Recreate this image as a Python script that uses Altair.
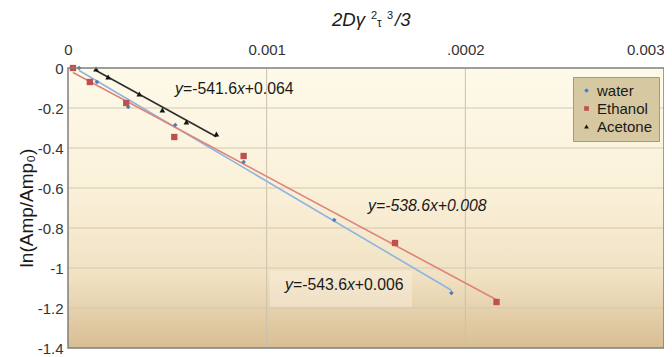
import altair as alt
import pandas as pd

# ---------------- data ----------------
series_names = ["water", "Ethanol", "Acetone"]

water_x = [0.000056, 0.000146, 0.000303, 0.000540, 0.000884, 0.001340, 0.001930]
water_y = [0.000, -0.070, -0.195, -0.285, -0.470, -0.760, -1.125]

ethanol_x = [0.000025, 0.000110, 0.000293, 0.000535, 0.000884, 0.001646, 0.002157]
ethanol_y = [0.000, -0.070, -0.175, -0.345, -0.440, -0.875, -1.170]

acetone_x = [0.000141, 0.000202, 0.000359, 0.000475, 0.000596, 0.000747]
acetone_y = [-0.005, -0.045, -0.130, -0.210, -0.270, -0.330]

x_ticks = [0, 0.001, 0.002, 0.003]
x_tick_labels = ["0", "0.001", ".0002", "0.003"]
y_ticks = [0, -0.2, -0.4, -0.6, -0.8, -1.0, -1.2, -1.4]
y_tick_labels = ["0", "-0.2", "-0.4", "-0.6", "-0.8", "-1", "-1.2", "-1.4"]

eq_acetone = "y=-541.6x+0.064"
eq_ethanol = "y=-538.6x+0.008"
eq_water = "y=-543.6x+0.006"

x_title_main = "2Dγ"
x_title_sup1 = "2"
x_title_sub = "τ"
x_title_sup2 = "3"
x_title_tail = "/3"
y_title = "ln(Amp/Amp₀)"

# ---------------- styling ----------------
point_colors = ["#4a7ebb", "#c0504d", "#141414"]
line_colors = ["#8fb4e0", "#e08379", "#2e2e2e"]
point_shapes = ["diamond", "square", "triangle-up"]
point_sizes = [22, 40, 32]
FONT = "Liberation Sans"
W, H = 596, 280

rows = []
for name, xs, ys in [("water", water_x, water_y),
                     ("Ethanol", ethanol_x, ethanol_y),
                     ("Acetone", acetone_x, acetone_y)]:
    for a, b in zip(xs, ys):
        rows.append({"series": name, "x": a, "y": b})
df = pd.DataFrame(rows)


def label_expr(vals, labels):
    parts = [f"abs(datum.value - ({v})) < 1e-9 ? '{l}'" for v, l in zip(vals, labels)]
    return " : ".join(parts) + " : ''"


xscale = alt.Scale(domain=[0, 0.003], nice=False, zero=False)
yscale = alt.Scale(domain=[-1.4, 0], nice=False, zero=False)
xaxis = alt.Axis(orient="top", values=x_ticks, labelExpr=label_expr(x_ticks, x_tick_labels),
                 grid=False, ticks=False, domain=False, labelPadding=11,
                 labelAlign={"condition": {"test": "datum.value > 0.0025", "value": "right"},
                             "value": "center"},
                 labelBound=False,
                 labelFont=FONT, labelFontSize=15, labelColor="#333333", title=None)
yaxis = alt.Axis(values=y_ticks, labelExpr=label_expr(y_ticks, y_tick_labels),
                 grid=False, ticks=False, domain=False, labelPadding=5, labelBound=False,
                 labelFont=FONT, labelFontSize=15, labelColor="#333333", title=None)

X = alt.X("x:Q", scale=xscale, axis=xaxis, title=None)
Y = alt.Y("y:Q", scale=yscale, axis=yaxis, title=None)

one = alt.Data(values=[{}])

background = alt.Chart(one).mark_rect(
    color={"gradient": "linear", "x1": 0, "y1": 0, "x2": 0, "y2": 1,
           "stops": [{"offset": 0, "color": "#fefaea"},
                     {"offset": 0.45, "color": "#faf0d8"},
                     {"offset": 0.75, "color": "#f0e1c2"},
                     {"offset": 1, "color": "#d8be93"}]}
).encode(x=alt.value(0), x2=alt.value(W), y=alt.value(0), y2=alt.value(H))

vgrid = alt.Chart(pd.DataFrame({"x": x_ticks[1:-1]})).mark_rule(
    color="#c9c1b0", strokeWidth=1).encode(x=X)
hgrid = alt.Chart(pd.DataFrame({"y": y_ticks[1:-1]})).mark_rule(
    color="#d3c9b1", strokeWidth=1).encode(y=Y)

eq_box = alt.Chart(one).mark_rect(color="#f7eedb", opacity=0.5).encode(
    x=alt.value(202), x2=alt.value(344), y=alt.value(203), y2=alt.value(239))

line_layers = []
for name, lc in zip(series_names, line_colors):
    line_layers.append(
        alt.Chart(df).transform_filter(alt.datum.series == name)
        .transform_regression("x", "y")
        .mark_line(strokeWidth=1.6, color=lc)
        .encode(x=X, y=Y)
    )

legend = alt.Legend(title=None, orient="none", legendX=505, legendY=9,
                    fillColor="#d6c9a1", strokeColor="#a89a72",
                    padding=6, rowPadding=2, symbolOffset=0, labelOffset=3, zindex=5,
                    symbolSize=22,
                    labelFont=FONT, labelFontSize=15, labelColor="#1a1a1a")

color_enc = alt.Color("series:N", scale=alt.Scale(domain=series_names, range=point_colors),
                      legend=legend)
shape_enc = alt.Shape("series:N", scale=alt.Scale(domain=series_names, range=point_shapes),
                      legend=legend)

point_layers = []
for name, sz in zip(series_names, point_sizes):
    point_layers.append(
        alt.Chart(df).transform_filter(alt.datum.series == name)
        .mark_point(filled=True, opacity=1, size=sz)
        .encode(x=X, y=Y, color=color_enc, shape=shape_enc)
    )

frame = alt.Chart(one).mark_rect(fillOpacity=0, stroke="#7f7f7f", strokeWidth=1.5).encode(
    x=alt.value(0), x2=alt.value(W), y=alt.value(0), y2=alt.value(H))

# ---------------- text pieces ----------------
AW = {"0": .556, "1": .556, "2": .556, "3": .556, "4": .556, "5": .556, "6": .556,
      "7": .556, "8": .556, "9": .556, ".": .278, "-": .333, "=": .584, "+": .584,
      "x": .5, "y": .5}


def tw(s, fs):
    return sum(AW.get(c, .556) for c in s) * fs


def eq_pieces(eq, left, base, fs, all_italic=False):
    ix = eq.index("x")
    parts = [(eq[0], True), (eq[1:ix], all_italic), ("x", True), (eq[ix + 1:], all_italic)]
    out = []
    cx = left
    for s, it in parts:
        out.append({"px": cx, "py": base, "t": s, "fs": fs, "it": it})
        cx += tw(s, fs)
    return out


EQ_FS = 15.8
pieces = []
pieces += eq_pieces(eq_acetone, 107, 25.5, EQ_FS)
pieces += eq_pieces(eq_water, 217, 222, EQ_FS)
pieces += eq_pieces(eq_ethanol, 300, 142.5, EQ_FS, all_italic=True)
pieces += [
    {"px": 264, "py": -42, "t": x_title_main, "fs": 18.5, "it": True},
    {"px": 303, "py": -49, "t": x_title_sup1, "fs": 11, "it": False},
    {"px": 309, "py": -41, "t": x_title_sub, "fs": 12, "it": False},
    {"px": 319, "py": -49, "t": x_title_sup2, "fs": 11, "it": False},
    {"px": 327, "py": -42, "t": x_title_tail, "fs": 18.5, "it": True},
]
tdf = pd.DataFrame(pieces)


def text_layer(italic):
    return alt.Chart(tdf[tdf["it"] == italic]).mark_text(
        align="left", baseline="alphabetic", font=FONT, color="#1a1a1a",
        fontStyle="italic" if italic else "normal"
    ).encode(
        x=alt.X("px:Q", scale=None), y=alt.Y("py:Q", scale=None),
        text="t:N", size=alt.Size("fs:Q", scale=None, legend=None),
    )


ytitle = alt.Chart(one).mark_text(angle=270, align="center", baseline="middle",
                                  font=FONT, fontSize=19, color="#1a1a1a").encode(
    x=alt.value(-41), y=alt.value(140), text=alt.value(y_title))

chart = alt.layer(
    background, vgrid, hgrid, eq_box, *line_layers, *point_layers, frame,
    text_layer(False), text_layer(True), ytitle
).properties(
    width=W, height=H,
    autosize=alt.AutoSizeParams(type="none"),
    padding={"left": 60, "top": 60, "right": 0, "bottom": 8},
).configure_view(stroke=None)

chart.save("out.html", embed_options={"renderer": "svg", "actions": False})
